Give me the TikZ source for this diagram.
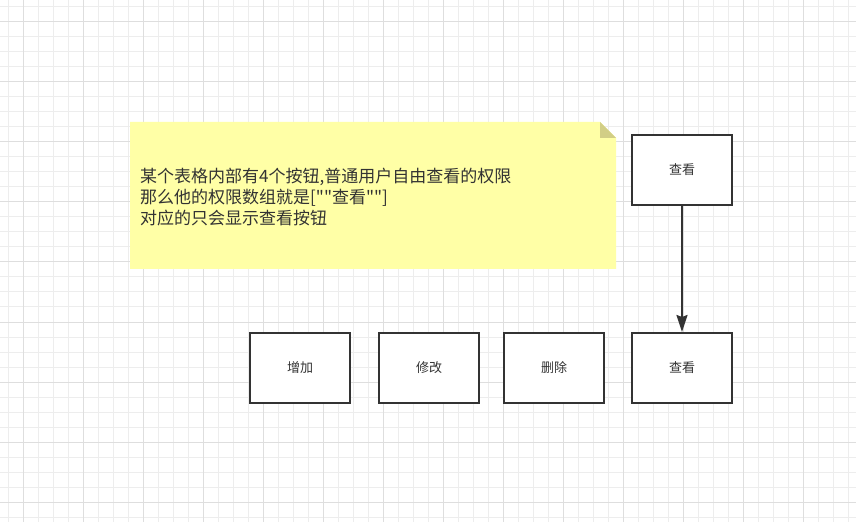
\documentclass[tikz,border=0pt]{standalone}
\usepackage{fontspec}
\newfontfamily\cjk{Noto Sans CJK SC}
\usetikzlibrary{arrows.meta}
\definecolor{linec}{HTML}{333333}
\definecolor{gridminor}{HTML}{EDEDED}
\definecolor{gridmajor}{HTML}{DEDEDE}
\definecolor{notefill}{HTML}{FFFFA6}
\definecolor{foldfill}{HTML}{D2CE86}
\begin{document}
\begin{tikzpicture}[x=1bp,y=-1bp,
  btn/.style={draw=linec, line width=2bp, fill=white, minimum width=100bp, minimum height=70bp, inner sep=0pt, font=\cjk\fontsize{13bp}{15bp}\selectfont, text=linec},
  minorline/.style={gridminor, line width=1bp},
  majorline/.style={gridmajor, line width=1bp},
  arrowline/.style={draw=linec, line width=2bp, -{Stealth[length=17bp,width=11bp,inset=2bp]}}]
\useasboundingbox (0,0) rectangle (856,522);
\fill[white] (0,0) rectangle (856,522);
% grid
\foreach \x in {8,23,...,856} \draw[minorline] (\x,0) -- (\x,522);
\foreach \y in {7,22,...,522} \draw[minorline] (0,\y) -- (856,\y);
\foreach \x in {23,83,...,856} \draw[majorline] (\x,0) -- (\x,522);
\foreach \y in {22,82,...,522} \draw[majorline] (0,\y) -- (856,\y);
% note
\fill[notefill] (130,122) -- (600,122) -- (616,138) -- (616,269) -- (130,269) -- cycle;
\fill[foldfill] (600,122) -- (616,138) -- (600,138) -- cycle;
\node[anchor=west, align=left, inner sep=0pt, text=linec, font=\cjk\fontsize{17bp}{21bp}\selectfont] (note) at (140,197)
  {某个表格内部有4个按钮,普通用户自由查看的权限\\那么他的权限数组就是[""查看""]\\对应的只会显示查看按钮};
% boxes
\node[btn] (v1) at (682,170) {查看};
\node[btn] (add) at (300,368) {增加};
\node[btn] (edit) at (429,368) {修改};
\node[btn] (del) at (554,368) {删除};
\node[btn] (v2) at (682,368) {查看};
\draw[arrowline] (v1) -- (v2);
\end{tikzpicture}
\end{document}
